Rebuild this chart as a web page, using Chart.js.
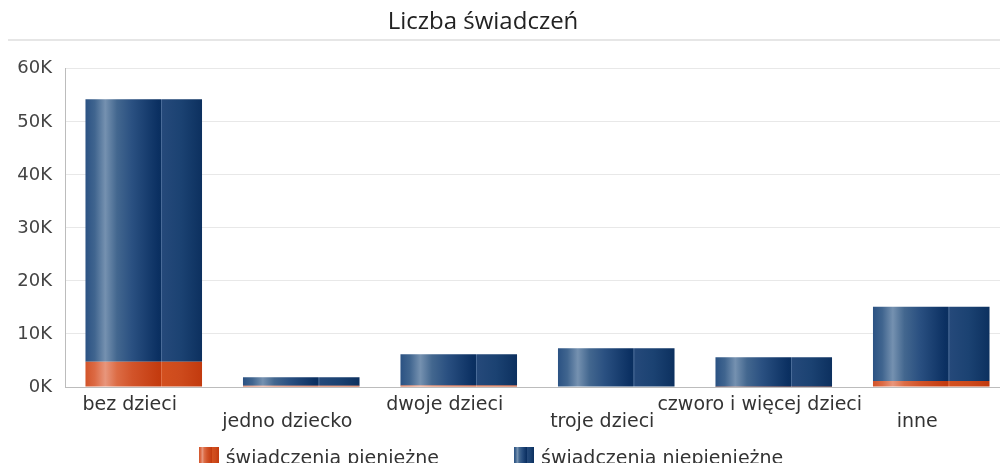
<!DOCTYPE html>
<html lang="pl">
<head>
<meta charset="utf-8">
<title>Liczba świadczeń</title>
<script src="https://cdn.jsdelivr.net/npm/chart.js@4.4.1/dist/chart.umd.min.js"></script>
<style>
  html, body { margin: 0; padding: 0; background: #fff; overflow: hidden; }
  #wrap { position: relative; width: 1010px; height: 463px; }
  #legend {
    position: absolute; left: 0; top: 447px; width: 982px;
    display: flex; justify-content: center; gap: 75px;
    font-family: "DejaVu Sans", sans-serif; font-size: 19px; color: #333;
  }
  .item { display: flex; align-items: center; white-space: nowrap; line-height: 20px; }
  .box { width: 20px; height: 20px; margin-right: 7px; }
</style>
</head>
<body>
<div id="wrap">
  <canvas id="chart" width="1010" height="463"></canvas>
  <div id="legend"></div>
</div>
<script>
// dane
const categories = ['bez dzieci', 'jedno dziecko', 'dwoje dzieci', 'troje dzieci', 'czworo i więcej dzieci', 'inne'];
const pieniezne = [4770, 250, 300, 100, 50, 1130];
const niepieniezne = [49500, 1580, 5870, 7200, 5550, 14020];
const seriesNames = ['świadczenia pieniężne', 'świadczenia niepieniężne'];
const yMax = 60000;
const yStep = 10000;

// paski gradientu (pozycja, kolor)
const ORANGE_STOPS = [
  [0, '#d2542a'], [0.08, '#dc6a44'], [0.17, '#e8967c'], [0.27, '#dc6c45'],
  [0.4, '#d2542a'], [0.62, '#c43c10'], [0.645, '#c33a0e'], [0.65, '#e4774f'],
  [0.66, '#d3501f'], [0.82, '#cd4a1c'], [1, '#c23a0e']
];
const BLUE_STOPS = [
  [0, '#2b5283'], [0.08, '#40658f'], [0.17, '#7591b0'], [0.27, '#43678f'],
  [0.4, '#2a5081'], [0.62, '#0b3062'], [0.645, '#0a2f5f'], [0.65, '#5374a0'],
  [0.66, '#25497a'], [0.82, '#1b4272'], [1, '#0c305f']
];
const BAR_PCT = 0.74;

function stripes(stops) {
  return (ctx) => {
    const chart = ctx.chart;
    const x = chart.scales.x;
    if (!chart.chartArea || !x || ctx.type !== 'data') return stops[4][1];
    const cx = x.getPixelForValue(ctx.dataIndex);
    const w = (x.width / categories.length) * BAR_PCT;
    const g = chart.ctx.createLinearGradient(cx - w / 2, 0, cx + w / 2, 0);
    stops.forEach(s => g.addColorStop(s[0], s[1]));
    return g;
  };
}

function cssStripes(stops) {
  return 'linear-gradient(to right, ' + stops.map(s => s[1] + ' ' + (s[0] * 100) + '%').join(', ') + ')';
}

// linia pod tytułem + przesunięcie tytułu
const titleLine = {
  id: 'titleLine',
  afterLayout(chart) {
    if (chart.titleBlock) { chart.titleBlock.left = 0; chart.titleBlock.right = 966; }
  },
  afterDraw(chart) {
    const c = chart.ctx;
    c.save();
    c.strokeStyle = '#e6e6e6';
    c.lineWidth = 2;
    c.beginPath();
    c.moveTo(8, 40);
    c.lineTo(chart.width, 40);
    c.stroke();
    c.restore();
  }
};

const chart = new Chart(document.getElementById('chart'), {
  type: 'bar',
  data: {
    labels: categories,
    datasets: [
      { label: seriesNames[0], data: pieniezne, backgroundColor: stripes(ORANGE_STOPS), _css: cssStripes(ORANGE_STOPS) },
      { label: seriesNames[1], data: niepieniezne, backgroundColor: stripes(BLUE_STOPS), _css: cssStripes(BLUE_STOPS) }
    ]
  },
  options: {
    responsive: false,
    animation: false,
    datasets: { bar: { barPercentage: BAR_PCT, categoryPercentage: 1, borderWidth: 0 } },
    layout: { padding: 0 },
    plugins: {
      legend: { display: false },
      tooltip: { enabled: false },
      title: {
        display: true,
        text: 'Liczba świadczeń',
        color: '#222',
        font: { family: '"Open Sans", sans-serif', size: 24, weight: 'normal', lineHeight: 1.2 },
        padding: { top: 8, bottom: 32 }
      }
    },
    scales: {
      x: {
        stacked: true,
        grid: { display: false, drawTicks: false },
        border: { color: '#bcbcbc' },
        ticks: {
          autoSkip: false, maxRotation: 0, padding: 9, labelOffset: -14,
          color: '#333',
          font: { family: '"DejaVu Sans", sans-serif', size: 19, lineHeight: 0.92 },
          callback: (v, i) => i % 2 ? ['', categories[i]] : categories[i]
        },
        afterFit: s => { s.height = 76; }
      },
      y: {
        stacked: true,
        min: 0, max: yMax,
        grid: { color: '#e8e8e8', drawTicks: false },
        border: { color: '#bcbcbc' },
        ticks: {
          stepSize: yStep, padding: 13, color: '#444',
          font: { family: '"DejaVu Sans", sans-serif', size: 18 },
          callback: v => (v / 1000) + 'K'
        },
        afterFit: s => { s.width = 65; }
      }
    }
  },
  plugins: [titleLine]
});

// legenda
const legend = document.getElementById('legend');
chart.data.datasets.forEach(ds => {
  const item = document.createElement('div');
  item.className = 'item';
  const box = document.createElement('span');
  box.className = 'box';
  box.style.background = ds._css;
  const txt = document.createElement('span');
  txt.textContent = ds.label;
  item.appendChild(box);
  item.appendChild(txt);
  legend.appendChild(item);
});
</script>
</body>
</html>
